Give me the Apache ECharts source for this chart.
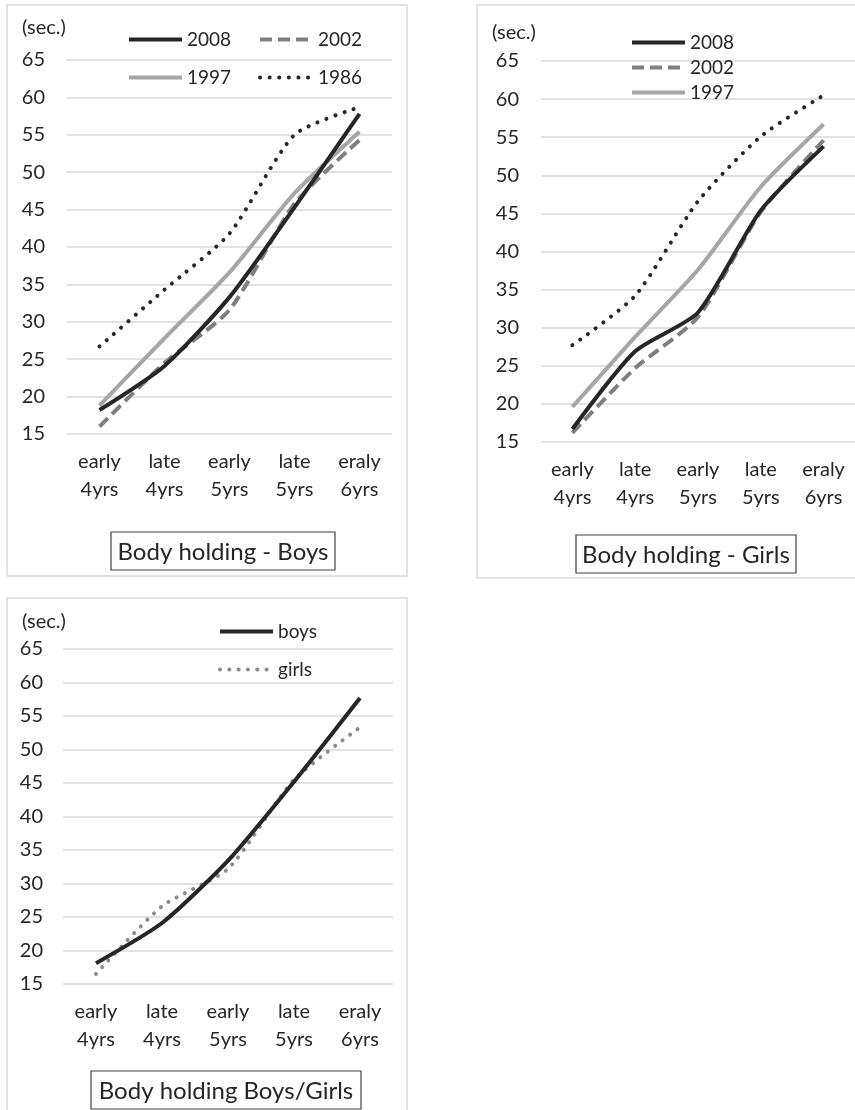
<!DOCTYPE html>
<html>
<head>
<meta charset="utf-8">
<script src="https://cdn.jsdelivr.net/npm/echarts@6/dist/echarts.min.js"></script>
<style>
html,body{margin:0;padding:0;background:#fff;}
#c{width:855px;height:1110px;}
</style>
</head>
<body>
<div id="c"></div>
<script>
// ---- data ----
var categories = ['early\n4yrs', 'late\n4yrs', 'early\n5yrs', 'late\n5yrs', 'eraly\n6yrs'];
var yTicks = [15, 20, 25, 30, 35, 40, 45, 50, 55, 60, 65];

var boys2008 = [18.2, 24.1, 33.3, 45.3, 57.8];
var boys2002 = [16.0, 24.5, 31.6, 45.8, 54.3];
var boys1997 = [18.8, 27.8, 36.6, 47.2, 55.4];
var boys1986 = [26.7, 34.3, 41.8, 55.0, 58.7];

var girls2008 = [16.7, 26.9, 32.0, 45.4, 53.8];
var girls2002 = [16.2, 24.7, 31.4, 45.2, 54.6];
var girls1997 = [19.6, 28.8, 37.6, 48.5, 56.7];
var girls1986 = [27.7, 34.2, 46.6, 55.1, 60.5];

var cmpBoys = [18.1, 24.1, 33.4, 45.2, 57.7];
var cmpGirls = [16.5, 26.6, 32.2, 45.5, 53.3];

var panelTitles = ['Body holding - Boys', 'Body holding - Girls', 'Body holding Boys/Girls'];
var unitLabel = '(sec.)';

// ---- styles ----
var FONT = 'Lato, "Open Sans", sans-serif';
var TXT = '#262626';
var GRID = '#d9d9d9';
var S2008 = {color: '#262626', width: 4, type: 'solid'};
var S2002 = {color: '#7f7f7f', width: 4, type: [12, 6]};
var S1997 = {color: '#a6a6a6', width: 4, type: 'solid'};
var S1986 = {color: '#262626', width: 4, type: [0.1, 9.5], cap: 'round'};
var SBOYS = {color: '#262626', width: 4, type: 'solid'};
var SGIRLS = {color: '#8c8c8c', width: 4, type: [0.1, 9.2], cap: 'round'};

var grids = [
  {left: 67, top: 60, width: 325, height: 374, ymargin: 22},
  {left: 541, top: 61, width: 322, height: 381, ymargin: 22},
  {left: 63, top: 649, width: 330, height: 335, ymargin: 20}
];

function xAx(i) {
  return {
    type: 'category', gridIndex: i, data: categories, boundaryGap: true,
    axisLine: {show: false}, axisTick: {show: false},
    axisLabel: {color: TXT, fontFamily: FONT, fontSize: 20, lineHeight: 28, margin: 14, interval: 0}
  };
}
function yAx(i) {
  return {
    type: 'value', gridIndex: i, min: yTicks[0], max: yTicks[yTicks.length - 1], interval: 5,
    axisLine: {show: false}, axisTick: {show: false},
    splitLine: {show: true, lineStyle: {color: GRID, width: 1.5}},
    axisLabel: {color: TXT, fontFamily: FONT, fontSize: 20, margin: grids[i].ymargin}
  };
}
function ser(name, data, style, gi, z) {
  return {
    name: name, type: 'line', data: data, xAxisIndex: gi, yAxisIndex: gi,
    symbol: 'none', smooth: 0.22, z: z, lineStyle: style, itemStyle: {color: style.color},
    emphasis: {disabled: true}, animation: false
  };
}
function leg(name, style, left, cy) {
  return {
    data: [name], left: left, top: cy - 10, itemWidth: 53, itemHeight: 20, padding: 0,
    selectedMode: false,
    itemStyle: {color: 'rgba(0,0,0,0)', borderColor: 'rgba(0,0,0,0)', borderWidth: 0, opacity: 0},
    lineStyle: {color: style.color, width: style.width, type: style.type, cap: style.cap || 'butt', opacity: 1},
    textStyle: {color: TXT, fontFamily: FONT, fontSize: 19, padding: [0, 0, 0, 0]}
  };
}
function titleBox(x, y, w, h, text) {
  return {
    type: 'group', children: [
      {type: 'rect', shape: {x: x, y: y, width: w, height: h}, style: {fill: '#fff', stroke: '#404040', lineWidth: 1.2}},
      {type: 'text', x: x + w / 2, y: y + h / 2 + 1, style: {text: text, fill: TXT, font: '24px ' + FONT, textAlign: 'center', textVerticalAlign: 'middle'}}
    ]
  };
}
function frame(x, y, w, h) {
  return {type: 'rect', shape: {x: x, y: y, width: w, height: h}, style: {fill: 'none', stroke: GRID, lineWidth: 1.5}, z: -10};
}
function unit(x, cy) {
  return {type: 'text', x: x, y: cy, style: {text: unitLabel, fill: TXT, font: '20px ' + FONT, textVerticalAlign: 'middle'}};
}

var option = {
  animation: false,
  backgroundColor: '#fff',
  grid: grids.map(function (g) { return {left: g.left, top: g.top, width: g.width, height: g.height}; }),
  xAxis: [xAx(0), xAx(1), xAx(2)],
  yAxis: [yAx(0), yAx(1), yAx(2)],
  legend: [
    leg('2008', S2008, 127, 40), leg('2002', S2002, 258, 40), leg('1997', S1997, 127, 78), leg('1986', S1986, 258, 78),
    leg('2008', S2008, 630, 43), leg('2002', S2002, 630, 68), leg('1997', S1997, 630, 93),
    leg('boys', SBOYS, 218, 632), leg('girls', SGIRLS, 218, 670)
  ],
  series: [
    ser('1986', boys1986, S1986, 0, 2),
    ser('1997', boys1997, S1997, 0, 3),
    ser('2002', boys2002, S2002, 0, 4),
    ser('2008', boys2008, S2008, 0, 5),
    ser('1986', girls1986, S1986, 1, 2),
    ser('1997', girls1997, S1997, 1, 3),
    ser('2002', girls2002, S2002, 1, 4),
    ser('2008', girls2008, S2008, 1, 5),
    ser('girls', cmpGirls, SGIRLS, 2, 3),
    ser('boys', cmpBoys, SBOYS, 2, 4)
  ],
  graphic: [
    frame(7, 5, 400, 571), frame(477, 5, 390, 573), frame(7, 598, 400, 530),
    unit(22, 28), unit(492, 33), unit(22, 622),
    titleBox(111, 532, 224, 38, panelTitles[0]),
    titleBox(576, 535, 220, 38, panelTitles[1]),
    titleBox(91, 1071, 270, 38, panelTitles[2])
  ]
};

var chart = echarts.init(document.getElementById('c'), null, {renderer: 'canvas'});
chart.setOption(option);
</script>
</body>
</html>
